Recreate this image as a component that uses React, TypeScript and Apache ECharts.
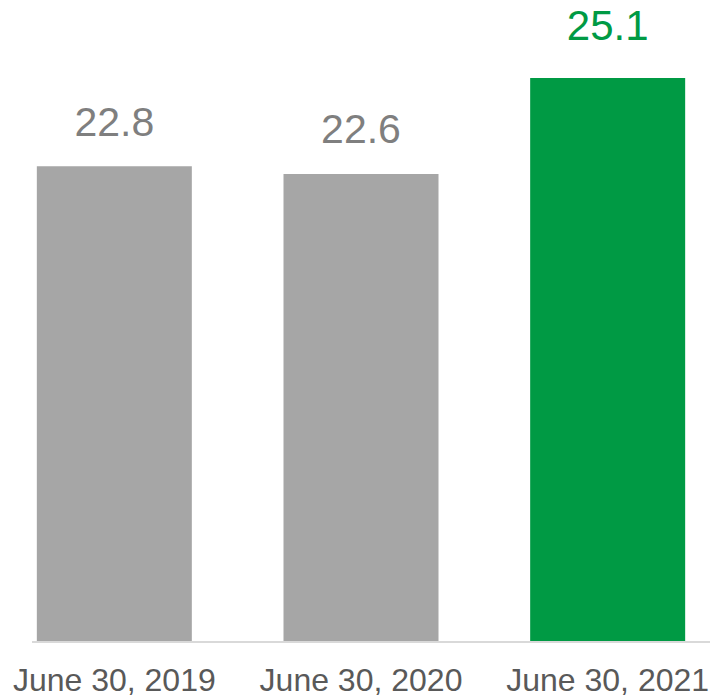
import React, { useEffect, useRef } from "react";
import * as echarts from "echarts";

const categories = ["June 30, 2019", "June 30, 2020", "June 30, 2021"];
const values = [22.8, 22.6, 25.1];
const barColors = ["#a6a6a6", "#a6a6a6", "#009a44"];
const labelColors = ["#7f7f7f", "#7f7f7f", "#009a44"];

export default function App() {
  const ref = useRef<HTMLDivElement>(null);
  useEffect(() => {
    if (!ref.current) return;
    const chart = echarts.init(ref.current, undefined, { renderer: "svg" });
    chart.setOption({
      animation: false,
      grid: { left: 0, right: 0, top: 78, bottom: 55, containLabel: false },
      xAxis: {
        type: "category",
        data: categories,
        axisLine: { show: false },
        axisTick: { show: false },
        axisLabel: {
          color: "#595959",
          fontSize: 32,
          fontFamily: "Liberation Sans, Arial, sans-serif",
          margin: 22,
          interval: 0,
        },
      },
      yAxis: {
        type: "value",
        min: 10.4,
        max: 25.1,
        show: false,
        splitLine: { show: false },
      },
      graphic: [
        {
          type: "line",
          shape: { x1: 41, y1: 642, x2: 719, y2: 642 },
          style: { stroke: "#d9d9d9", lineWidth: 2 },
          z: 10,
        },
      ],
      series: [
        {
          type: "bar",
          barWidth: 155,
          data: values.map((v, i) => ({
            value: v,
            itemStyle: { color: barColors[i] },
            label: {
              color: labelColors[i],
              fontSize: i === 2 ? 42 : 41,
              distance: i === 2 ? 32 : 24,
            },
          })),
          label: {
            show: true,
            position: "top",
            fontFamily: "Liberation Sans, Arial, sans-serif",
            formatter: (p: any) => p.value.toFixed(1),
          },
        },
      ],
    });
    return () => chart.dispose();
  }, []);
  return (
    <div
      ref={ref}
      style={{ position: "absolute", left: -9, top: 0, width: 740, height: 697 }}
    />
  );
}
